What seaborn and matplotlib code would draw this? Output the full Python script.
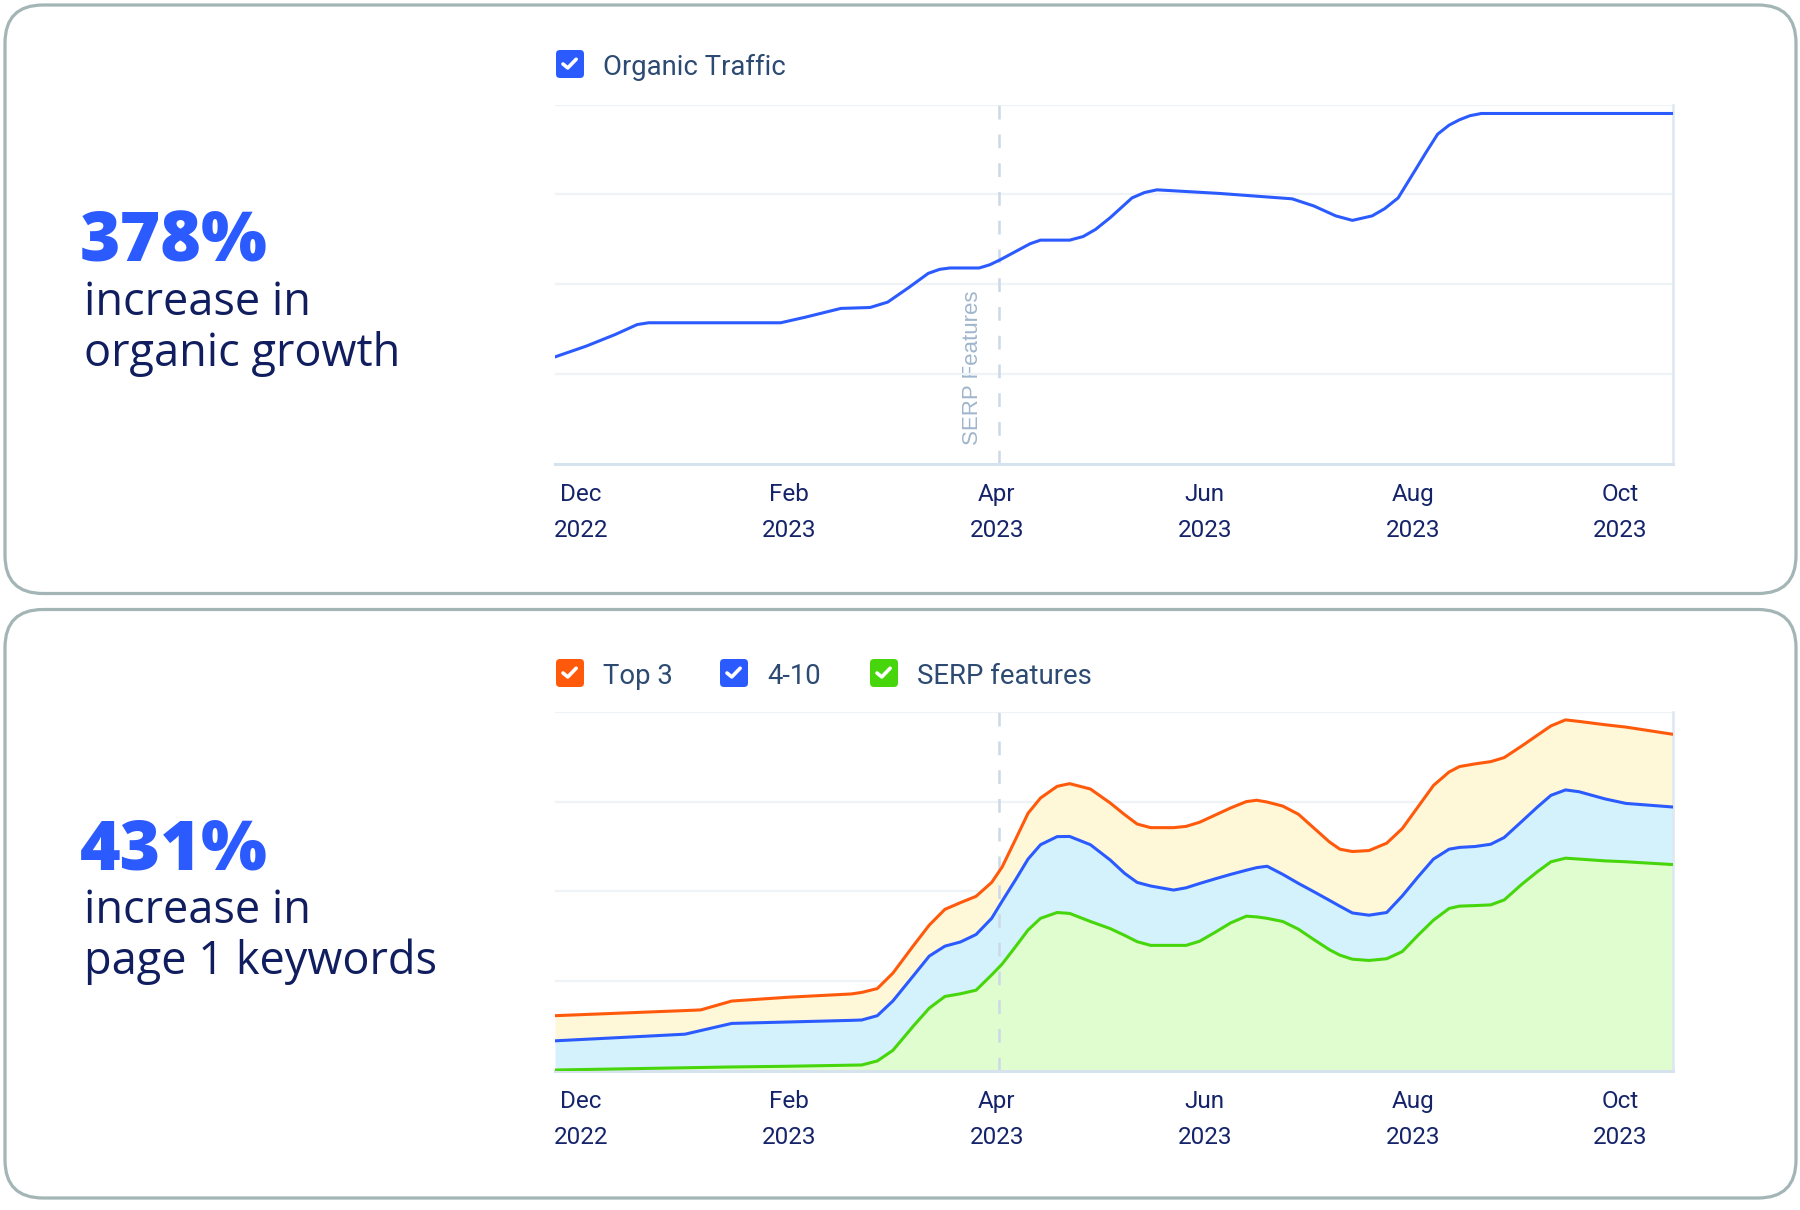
import numpy as np
import pandas as pd
import matplotlib
matplotlib.use("Agg")
import matplotlib.pyplot as plt
import seaborn as sns
from matplotlib.patches import FancyBboxPatch
from matplotlib.lines import Line2D

# ---------------- data (x in months since Dec 2022, y in gridline units) ----------------
month_ticks = [0, 2, 4, 6, 8, 10]
tick_labels = ["Dec\n2022", "Feb\n2023", "Apr\n2023", "Jun\n2023", "Aug\n2023", "Oct\n2023"]
annotation_month = 4.02
annotation_label = "SERP Features"

traffic_month = [-0.25, 0.05, 0.33, 0.54, 0.65, 1.92, 2.15, 2.50, 2.78, 2.95, 3.15, 3.34,
                 3.45, 3.55, 3.83, 3.93, 4.03, 4.32, 4.42, 4.70, 4.83, 4.95, 5.09, 5.30,
                 5.42, 5.54, 6.14, 6.84, 7.05, 7.26, 7.42, 7.61, 7.73, 7.86, 8.03, 8.13,
                 8.24, 8.35, 8.45, 8.55, 8.66, 10.5]
traffic_value = [1.19, 1.31, 1.44, 1.55, 1.57, 1.57, 1.63, 1.73, 1.74, 1.80, 1.96, 2.12,
                 2.165, 2.18, 2.18, 2.215, 2.27, 2.45, 2.49, 2.49, 2.53, 2.61, 2.74, 2.96,
                 3.02, 3.05, 3.01, 2.95, 2.87, 2.76, 2.71, 2.76, 2.84, 2.96, 3.28, 3.47,
                 3.67, 3.77, 3.83, 3.875, 3.90, 3.90]

kw_month = [-0.25, 0.5, 1.0, 1.15, 1.45, 2.0, 2.6, 2.7, 2.85, 3.0, 3.2, 3.35, 3.5, 3.65,
            3.8, 3.95, 4.05, 4.18, 4.3, 4.42, 4.58, 4.7, 4.9, 5.09, 5.23, 5.35, 5.48, 5.7,
            5.82, 5.95, 6.1, 6.25, 6.4, 6.5, 6.6, 6.75, 6.9, 7.05, 7.2, 7.3, 7.42, 7.58,
            7.75, 7.9, 8.05, 8.2, 8.35, 8.45, 8.6, 8.75, 8.88, 9.05, 9.2, 9.33, 9.47, 9.6,
            9.85, 10.05, 10.5]
# stacked totals as drawn: SERP features (bottom), + 4-10, + Top 3 (top line)
serp_features = [0.011, 0.026, 0.036, 0.039, 0.045, 0.053, 0.065, 0.067, 0.112, 0.23, 0.505,
                 0.70, 0.83, 0.86, 0.90, 1.07, 1.19, 1.385, 1.57, 1.70, 1.765, 1.755, 1.665,
                 1.586, 1.51, 1.44, 1.399, 1.399, 1.399, 1.445, 1.545, 1.65, 1.724, 1.716,
                 1.70, 1.665, 1.58, 1.463, 1.35, 1.29, 1.245, 1.231, 1.25, 1.33, 1.51, 1.68,
                 1.81, 1.836, 1.842, 1.85, 1.905, 2.08, 2.22, 2.33, 2.37, 2.36, 2.34, 2.33,
                 2.299]
upto_4_10 = [0.336, 0.380, 0.410, 0.450, 0.530, 0.546, 0.564, 0.568, 0.616, 0.78, 1.065,
             1.28, 1.39, 1.437, 1.52, 1.70, 1.89, 2.13, 2.36, 2.52, 2.61, 2.612, 2.52, 2.35,
             2.20, 2.10, 2.06, 2.015, 2.04, 2.088, 2.14, 2.19, 2.236, 2.265, 2.28, 2.19,
             2.09, 1.996, 1.90, 1.835, 1.76, 1.735, 1.765, 1.95, 2.16, 2.36, 2.47, 2.49,
             2.50, 2.525, 2.60, 2.78, 2.94, 3.07, 3.13, 3.11, 3.03, 2.98, 2.94]
upto_top3 = [0.616, 0.650, 0.673, 0.680, 0.779, 0.822, 0.858, 0.875, 0.918, 1.09, 1.40,
             1.625, 1.80, 1.875, 1.945, 2.10, 2.27, 2.58, 2.87, 3.04, 3.17, 3.20, 3.14,
             2.985, 2.854, 2.75, 2.71, 2.71, 2.724, 2.77, 2.85, 2.93, 3.00, 3.015, 2.995,
             2.95, 2.86, 2.705, 2.55, 2.47, 2.444, 2.455, 2.537, 2.70, 2.94, 3.18, 3.33,
             3.39, 3.42, 3.445, 3.49, 3.62, 3.74, 3.843, 3.91, 3.893, 3.856, 3.83, 3.75]

legend_top = ["Organic Traffic"]
legend_bottom = ["Top 3", "4-10", "SERP features"]

# ---------------- style ----------------
BLUE = "#2B5BFF"
ORANGE = "#FF5A0C"
GREEN = "#47D60C"
FILL_GREEN = "#E0FDD0"
FILL_BLUE = "#D3F2FC"
FILL_YELLOW = "#FFF8D8"
NAVY = "#101E5F"
TICK = "#15246A"
LEGEND_TXT = "#2C4A72"
BORDER = "#A3B5B5"
GRID = "#EEF3F8"
AXIS = "#D6E2EE"

sns.set_theme(style="white")
plt.rcParams['font.family'] = ['Roboto', 'DejaVu Sans']

W, H = 1800, 1210
fig = plt.figure(figsize=(W / 100, H / 100), dpi=100)
fig.patch.set_facecolor("white")

# background axes in pixel coordinates
bg = fig.add_axes([0, 0, 1, 1])
bg.set_xlim(0, W)
bg.set_ylim(H, 0)
bg.axis("off")

for y0 in (5, 609.5):
    bg.add_patch(FancyBboxPatch((5, y0), 1791, 588.5,
                                boxstyle="round,pad=0,rounding_size=38",
                                fc="white", ec=BORDER, lw=2.3))

# left texts
def big_text(y_num, num, line1, line2):
    bg.text(80, y_num, num, fontsize=50, fontweight="heavy", color=BLUE,
            family=["Open Sans", "DejaVu Sans"], va="baseline", ha="left")
    bg.text(84, y_num + 53, line1, fontsize=32.5, color=NAVY,
            family=["Open Sans", "DejaVu Sans"], va="baseline", ha="left")
    bg.text(84, y_num + 104, line2, fontsize=32.5, color=NAVY,
            family=["Open Sans", "DejaVu Sans"], va="baseline", ha="left")

big_text(262, "378%", "increase in", "organic growth")
big_text(870, "431%", "increase in", "page 1 keywords")

# legend checkboxes
def checkbox(x, yc, color, label):
    s = 28
    bg.add_patch(FancyBboxPatch((x, yc - s / 2), s, s,
                                boxstyle="round,pad=0,rounding_size=4",
                                fc=color, ec="none"))
    bg.add_line(Line2D([x + 0.25 * s, x + 0.42 * s, x + 0.72 * s],
                       [yc + 0.0 * s, yc + 0.14 * s, yc - 0.17 * s],
                       color="white", lw=2.6, solid_capstyle="round",
                       solid_joinstyle="round"))
    bg.text(x + 47, yc, label, fontsize=19.8, color=LEGEND_TXT, va="center_baseline",
            ha="left")

checkbox(556, 64, BLUE, legend_top[0])
checkbox(556, 673, ORANGE, legend_bottom[0])
checkbox(720, 673, BLUE, legend_bottom[1])
checkbox(870, 673, GREEN, legend_bottom[2])

# SERP Features label (rotated)
bg.text(972, 368, annotation_label, rotation=90, fontsize=16, color="#A0B6CC",
        family=["Liberation Sans", "DejaVu Sans"], ha="center", va="center")

# chart axes
left = 554.5 / W
width = (1672.6 - 554.5) / W

def style(ax):
    ax.set_xlim(-0.255, 10.5)
    ax.set_ylim(0, 4)
    ax.set_yticks([1, 2, 3, 4])
    ax.set_yticklabels([])
    ax.yaxis.grid(True, color=GRID, lw=1.6)
    ax.xaxis.grid(False)
    ax.tick_params(axis="y", length=0)
    ax.set_xticks(month_ticks)
    ax.set_xticklabels(tick_labels, fontsize=17.5, color=TICK, linespacing=1.72)
    ax.tick_params(axis="x", length=0, pad=13.5)
    for s in ("left", "top"):
        ax.spines[s].set_visible(False)
    ax.spines["bottom"].set_color(AXIS)
    ax.spines["bottom"].set_linewidth(2.2)
    ax.spines["right"].set_color("#DDE7F1")
    ax.spines["right"].set_linewidth(1.8)
    ax.set_xlabel("")
    ax.set_ylabel("")
    ax.patch.set_alpha(0)
    ax.axvline(annotation_month, color="#CCD9E6", lw=1.8, ls=(0, (5.5, 6.0)), zorder=2.5)

ax1 = fig.add_axes([left, 1 - 463.8 / H, width, (463.8 - 104.5) / H])
sns.lineplot(x=traffic_month, y=traffic_value, ax=ax1, color=BLUE, lw=2.2,
             legend=False, zorder=3)
style(ax1)

ax2 = fig.add_axes([left, 1 - 1071 / H, width, (1071 - 711.8) / H])
ax2.fill_between(kw_month, 0, serp_features, color=FILL_GREEN, lw=0, zorder=1)
ax2.fill_between(kw_month, serp_features, upto_4_10, color=FILL_BLUE, lw=0, zorder=1)
ax2.fill_between(kw_month, upto_4_10, upto_top3, color=FILL_YELLOW, lw=0, zorder=1)
sns.lineplot(x=kw_month, y=serp_features, ax=ax2, color=GREEN, lw=2.2, legend=False, zorder=3)
sns.lineplot(x=kw_month, y=upto_4_10, ax=ax2, color=BLUE, lw=2.2, legend=False, zorder=3)
sns.lineplot(x=kw_month, y=upto_top3, ax=ax2, color=ORANGE, lw=2.2, legend=False, zorder=3)
style(ax2)

fig.savefig("out.png", dpi=100, facecolor="white")
